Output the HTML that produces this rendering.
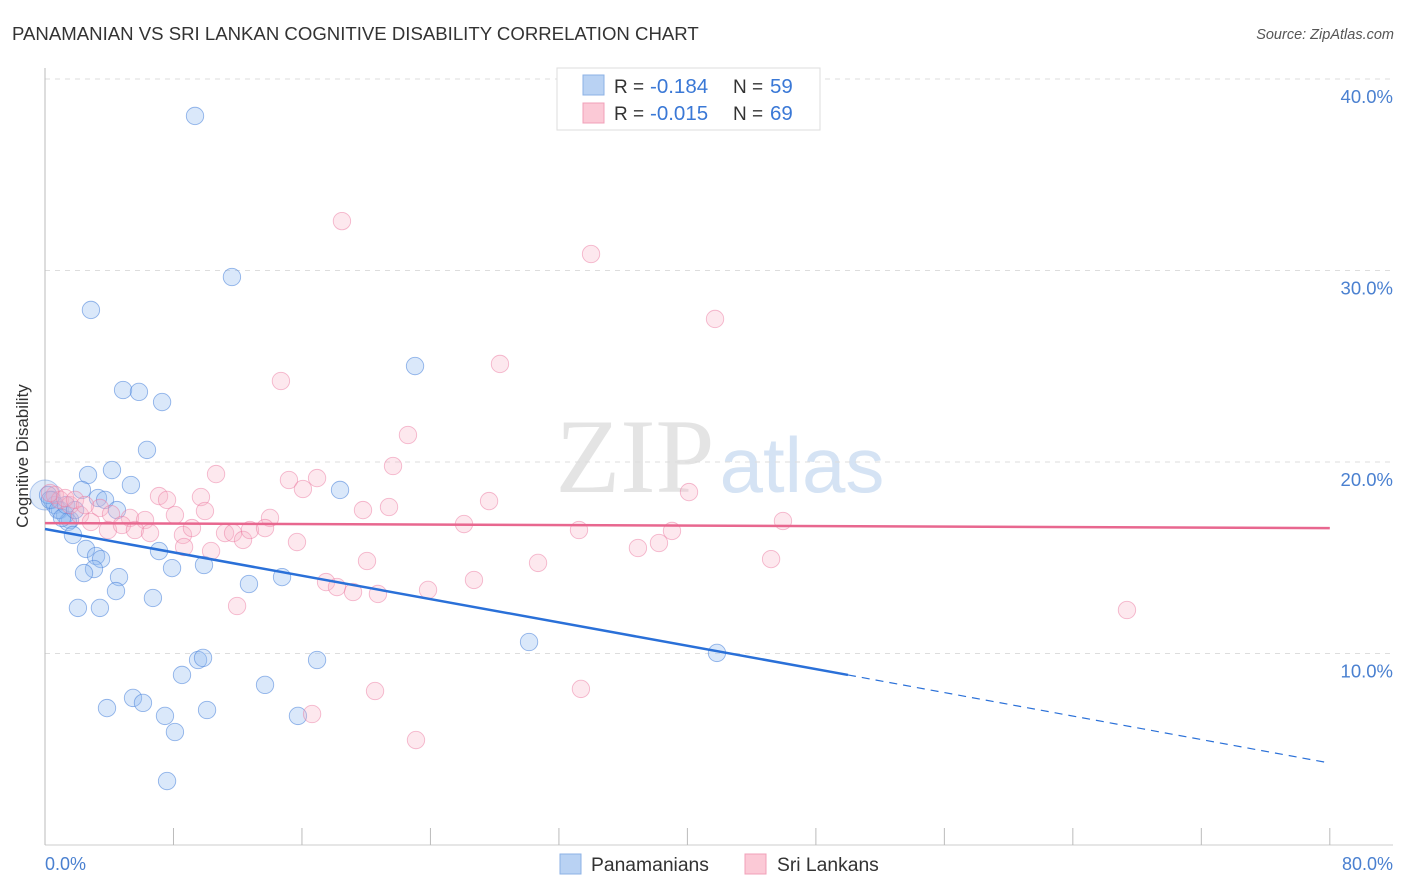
<!DOCTYPE html>
<html><head><meta charset="utf-8"><style>
html,body{margin:0;padding:0;background:#fff;width:1406px;height:892px;overflow:hidden}
svg{display:block;font-family:"Liberation Sans",sans-serif}
</style></head><body>
<svg id="chart" width="1406" height="892">
<text x="12" y="40" font-size="18.6" fill="#333">PANAMANIAN VS SRI LANKAN COGNITIVE DISABILITY CORRELATION CHART</text>
<text x="1394" y="39" font-size="14.5" fill="#555" font-style="italic" text-anchor="end">Source: ZipAtlas.com</text>
<text x="635" y="492" font-size="106" fill="#e4e4e4" font-family="Liberation Serif,serif" text-anchor="middle">ZIP</text>
<text x="802" y="492" font-size="78" fill="#d5e3f4" text-anchor="middle">atlas</text>
<g id="grid"></g>
<g id="axes"></g>
<g id="points"></g>
<g id="trends"></g>
<text x="28" y="456" font-size="17" fill="#333" text-anchor="middle" transform="rotate(-90 28 456)">Cognitive Disability</text>
<text x="45" y="870" font-size="18" fill="#4a80d0">0.0%</text>
<text x="1393" y="870" font-size="18" fill="#4a80d0" text-anchor="end">80.0%</text>
<g>
<rect x="557" y="68" width="263" height="62" fill="#fff" stroke="#ddd"/>
<rect x="583" y="75" width="21" height="20" fill="#b9d2f3" stroke="#8cb2e6"/>
<rect x="583" y="103" width="21" height="20" fill="#fbc9d6" stroke="#f0a0b8"/>
<text x="614" y="93" font-size="19" fill="#333">R = <tspan x="650" font-size="20.5" fill="#3a78d6">-0.184</tspan><tspan x="733">N = </tspan><tspan x="770" font-size="20.5" fill="#3a78d6">59</tspan></text>
<text x="614" y="120" font-size="19" fill="#333">R = <tspan x="650" font-size="20.5" fill="#3a78d6">-0.015</tspan><tspan x="733">N = </tspan><tspan x="770" font-size="20.5" fill="#3a78d6">69</tspan></text>
</g>
<g>
<rect x="560" y="854" width="21" height="20" fill="#b9d2f3" stroke="#8cb2e6"/>
<text x="591" y="871" font-size="19.3" fill="#333">Panamanians</text>
<rect x="745" y="854" width="21" height="20" fill="#fbc9d6" stroke="#f0a0b8"/>
<text x="777" y="871" font-size="19.3" fill="#333">Sri Lankans</text>
</g>
</svg>
<script>
const yTicks=[10,20,30,40];
const yTickLabels=["10.0%","20.0%","30.0%","40.0%"];
const xTicks=[0,8,16,24,32,40,48,56,64,72,80];
const blueX=[9.34,11.64,2.86,23.04,4.86,5.85,7.29,6.35,2.68,4.17,2.30,3.30,3.74,5.35,18.37,4.48,0.44,0.62,0.93,1.25,1.56,1.43,1.74,2.55,3.18,3.49,7.10,3.05,2.43,7.91,9.90,4.61,4.42,12.70,14.76,6.72,2.05,3.42,30.14,41.84,9.53,9.84,16.94,8.53,13.70,5.48,6.10,3.86,10.09,7.47,15.75,8.09,7.60,0.19,0.31,0.81,1.06,1.31,1.87];
const blueY=[38.07,29.66,27.94,25.01,23.76,23.66,23.13,20.63,19.32,19.58,18.54,18.12,18.02,18.80,18.54,17.49,18.02,17.75,17.49,17.23,16.97,16.87,16.19,15.46,15.09,14.93,15.35,14.41,14.20,14.46,14.62,13.99,13.26,13.63,13.99,12.90,12.38,12.38,10.60,10.03,9.66,9.77,9.66,8.88,8.36,7.68,7.42,7.15,7.05,6.74,6.74,5.90,3.34,18.28,18.02,17.49,17.08,17.75,17.49];
const pinkX=[18.49,34.00,41.72,14.69,28.33,22.60,21.67,10.65,15.19,16.94,27.65,40.10,7.10,7.60,9.71,16.06,19.80,21.42,3.42,4.11,5.29,6.23,8.09,9.96,14.01,26.09,33.25,39.04,45.95,0.62,0.93,1.56,2.18,2.86,3.92,4.79,5.60,6.54,8.59,9.15,11.21,11.71,12.33,12.76,13.70,15.69,8.66,10.34,38.23,36.92,20.05,30.70,45.21,26.71,17.50,18.18,19.18,20.73,23.85,11.96,67.37,20.55,33.37,16.63,23.10,0.31,1.25,1.87,2.49];
const pinkY=[32.58,30.86,27.47,24.23,25.12,21.41,19.79,19.37,19.06,19.16,17.96,18.43,18.22,18.02,18.17,18.59,17.49,17.65,17.60,17.28,17.08,16.97,17.23,17.44,17.08,16.76,16.45,16.40,16.92,18.28,18.02,17.75,17.23,16.87,16.45,16.71,16.45,16.29,16.19,16.55,16.29,16.29,15.93,16.45,16.55,15.82,15.56,15.35,15.77,15.51,14.83,14.73,14.93,13.84,13.73,13.47,13.21,13.11,13.32,12.48,12.27,8.04,8.15,6.84,5.48,18.38,18.12,18.02,17.75];
const blueTrend=[16.50,8.88,4.28]; // at x=0,50,80
const pinkTrend=[16.81,16.55];     // at x=0,80
const NS="http://www.w3.org/2000/svg";
const sx=v=>45+v*16.06, sy=v=>845-v*19.15;
function mk(tag,attrs,parent){const e=document.createElementNS(NS,tag);for(const k in attrs)e.setAttribute(k,attrs[k]);parent.appendChild(e);return e;}
const grid=document.getElementById('grid'),axes=document.getElementById('axes'),pts=document.getElementById('points'),tr=document.getElementById('trends');
yTicks.forEach((t,i)=>{
  const l=mk('line',{x1:45,x2:1393,y1:sy(t),y2:sy(t),stroke:'#ddd','stroke-dasharray':'5,5'},grid);
  
  
  const tx=mk('text',{x:1393,y:sy(t)+24,'font-size':18.5,fill:'#4a80d0','text-anchor':'end'},grid);
  tx.textContent=yTickLabels[i];
  
  
});
const ya=mk('line',{x1:45,x2:45,y1:68,y2:845,stroke:'#bbb'},axes);


const xa=mk('line',{x1:45,x2:1393,y1:845,y2:845,stroke:'#ccc'},axes);


xTicks.forEach(t=>{
  const l=mk('line',{x1:sx(t),x2:sx(t),y1:828,y2:845,stroke:'#bbb'},axes);
  
  
});
const big=mk('circle',{cx:sx(0),cy:sy(18.28),r:15,fill:'rgba(150,185,235,0.3)',stroke:'rgba(90,140,220,0.45)'},pts);


blueX.forEach((x,i)=>{
  const c=mk('circle',{cx:sx(x),cy:sy(blueY[i]),r:8.7,fill:'rgba(150,190,240,0.35)',stroke:'rgba(80,135,220,0.6)','stroke-width':0.9},pts);
  
  
});
pinkX.forEach((x,i)=>{
  const c=mk('circle',{cx:sx(x),cy:sy(pinkY[i]),r:8.7,fill:'rgba(248,180,200,0.3)',stroke:'rgba(235,120,160,0.5)','stroke-width':0.9},pts);
  
  
});
const b1=mk('line',{x1:sx(0),y1:sy(blueTrend[0]),x2:sx(50),y2:sy(blueTrend[1]),stroke:'#2a70d8','stroke-width':2.5},tr);


const b2=mk('line',{x1:sx(50),y1:sy(blueTrend[1]),x2:sx(80),y2:sy(blueTrend[2]),stroke:'#2a70d8','stroke-width':1.2,'stroke-dasharray':'8,6'},tr);


const p1=mk('line',{x1:sx(0),y1:sy(pinkTrend[0]),x2:sx(80),y2:sy(pinkTrend[1]),stroke:'#e8678f','stroke-width':2.5},tr);


</script>
</body></html>
